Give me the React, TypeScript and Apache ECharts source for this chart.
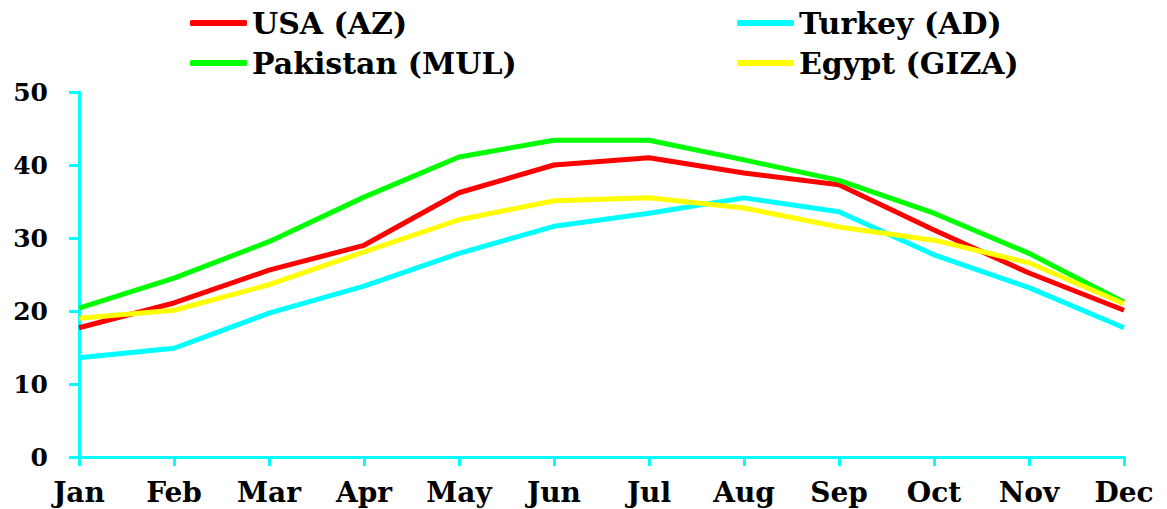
import React, { useEffect, useRef } from "react";
import * as echarts from "echarts";

const months = ["Jan", "Feb", "Mar", "Apr", "May", "Jun", "Jul", "Aug", "Sep", "Oct", "Nov", "Dec"];
const usa = [17.7, 21.1, 25.6, 29.0, 36.2, 40.0, 41.0, 38.9, 37.3, 31.1, 25.2, 20.1];
const turkey = [13.6, 14.9, 19.7, 23.4, 27.9, 31.6, 33.4, 35.5, 33.6, 27.7, 23.2, 17.7];
const pakistan = [20.4, 24.5, 29.5, 35.6, 41.1, 43.4, 43.4, 40.7, 37.9, 33.4, 27.9, 21.2];
const egypt = [19.0, 20.1, 23.6, 28.1, 32.5, 35.1, 35.5, 34.1, 31.5, 29.7, 26.6, 21.0];

const FONT = "DejaVu Serif";
const CYAN = "#00ffff";

export default function App() {
  const ref = useRef<HTMLDivElement>(null);
  useEffect(() => {
    if (!ref.current) return;
    const chart = echarts.init(ref.current, undefined, { renderer: "svg" });
    const legendText = { fontFamily: FONT, fontWeight: "bold", fontSize: 30, color: "#000", lineHeight: 30 };
    const mk = (name: string, data: number[], color: string) => ({
      name,
      type: "line",
      data,
      showSymbol: false,
      symbol: "none",
      lineStyle: { color, width: 5 },
      itemStyle: { color },
    });
    const legendBase = {
      orient: "vertical",
      top: 8,
      padding: 0,
      itemGap: 10,
      itemWidth: 57,
      itemHeight: 6,
      icon: "roundRect",
      textStyle: legendText,
    };
    chart.setOption({
      animation: false,
      backgroundColor: "#fff",
      legend: [
        { ...legendBase, data: ["USA (AZ)", "Pakistan (MUL)"], left: 190 },
        { ...legendBase, data: ["Turkey (AD)", "Egypt (GIZA)"], left: 737 },
      ],
      grid: { left: 79, right: 43, top: 92, bottom: 52 },
      xAxis: {
        type: "category",
        data: months,
        boundaryGap: false,
        axisLine: { lineStyle: { color: CYAN, width: 3 } },
        axisTick: { show: true, length: 9, lineStyle: { color: CYAN, width: 3 } },
        axisLabel: { fontFamily: FONT, fontWeight: "bold", fontSize: 28, color: "#000", margin: 20, lineHeight: 30 },
        splitLine: { show: false },
      },
      yAxis: {
        type: "value",
        min: 0,
        max: 50,
        interval: 10,
        axisLine: { show: true, lineStyle: { color: CYAN, width: 3 } },
        axisTick: { show: true, length: 10, lineStyle: { color: CYAN, width: 3 } },
        axisLabel: { fontFamily: FONT, fontWeight: "bold", fontSize: 25, color: "#000", margin: 31 },
        splitLine: { show: false },
      },
      series: [
        mk("USA (AZ)", usa, "#ff0000"),
        mk("Turkey (AD)", turkey, "#00ffff"),
        mk("Pakistan (MUL)", pakistan, "#00ff00"),
        mk("Egypt (GIZA)", egypt, "#ffff00"),
      ],
    });
    return () => chart.dispose();
  }, []);
  return (
    <div
      ref={ref}
      style={{ position: "fixed", left: 0, top: 0, width: 1167, height: 509, background: "#fff" }}
    />
  );
}
